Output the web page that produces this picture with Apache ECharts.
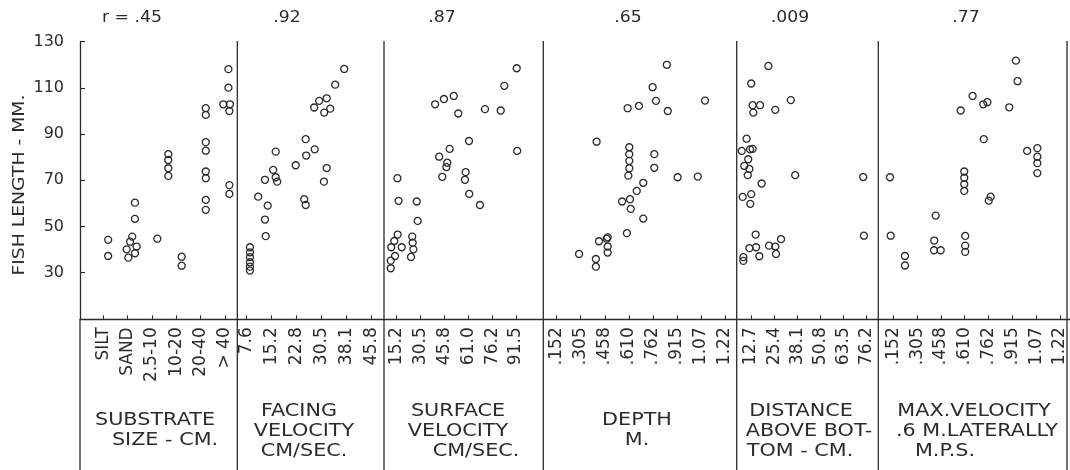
<!DOCTYPE html>
<html>
<head>
<meta charset="utf-8">
<script src="https://cdn.jsdelivr.net/npm/echarts@6/dist/echarts.min.js"></script>
<style>
  html, body { margin: 0; padding: 0; background: #fff; }
  #chart { width: 1070px; height: 470px; }
</style>
</head>
<body>
<div id="chart"></div>
<script>
// r value printed above each panel
const rLabels = ['r = .45', '.92', '.87', '.65', '.009', '.77'];

// class labels under each panel
const substrateTicks = ['SILT', 'SAND', '2.5-10', '10-20', '20-40', '> 40'];
const facingTicks = ['7.6', '15.2', '22.8', '30.5', '38.1', '45.8'];
const surfaceTicks = ['15.2', '30.5', '45.8', '61.0', '76.2', '91.5'];
const depthTicks = ['.152', '.305', '.458', '.610', '.762', '.915', '1.07', '1.22'];
const distanceTicks = ['12.7', '25.4', '38.1', '50.8', '63.5', '76.2'];
const maxVelTicks = ['.152', '.305', '.458', '.610', '.762', '.915', '1.07', '1.22'];

const yTicks = [30, 50, 70, 90, 110, 130];

// panel captions
const substrateTitle = ['SUBSTRATE', 'SIZE - CM.'];
const facingTitle = ['FACING', 'VELOCITY', 'CM/SEC.'];
const surfaceTitle = ['SURFACE', 'VELOCITY', 'CM/SEC.'];
const depthTitle = ['DEPTH', 'M.'];
const distanceTitle = ['DISTANCE', 'ABOVE BOT-', 'TOM - CM.'];
const maxVelTitle = ['MAX.VELOCITY', '.6 M.LATERALLY', 'M.P.S.'];

// fish: x = position along the class ticks (0 = first tick), y = fish length mm
const substrateX = [0.2, 0.2, 1.3, 1.3, 1.19, 1.1, 1.37, 0.96, 1.3, 1.03, 2.22, 2.67, 2.67, 2.67, 2.67, 3.22, 3.22,
  4.21, 4.21, 4.21, 4.21, 4.21, 4.21, 4.21, 4.21, 5.14, 5.14, 4.93, 5.2, 5.18, 5.18, 5.18];
const substrateY = [44.2, 37.2, 60.3, 53.3, 45.6, 43.4, 41.3, 40.1, 38.4, 36.5, 44.7, 81.3, 78.8, 75.2, 71.9, 36.9, 33.0,
  101.2, 98.3, 86.5, 82.8, 73.8, 70.9, 61.5, 57.2, 118.1, 110.1, 102.9, 102.9, 100.0, 67.9, 64.1];

const facingX = [0.13, 0.13, 0.13, 0.13, 0.13, 0.13, 0.46, 0.73, 0.84, 0.73, 0.76, 1.06, 1.16, 1.16, 1.22, 1.96, 2.36, 2.38,
  2.72, 2.3, 2.36, 3.2, 3.09, 2.7, 2.9, 3.2, 3.1, 3.34, 3.54, 3.9];
const facingY = [41.0, 38.8, 36.7, 34.5, 32.6, 30.9, 62.9, 70.2, 59.0, 53.0, 45.8, 74.5, 82.4, 71.3, 69.4, 76.5, 87.8, 80.7,
  83.4, 61.8, 59.3, 75.3, 69.4, 101.5, 104.4, 105.5, 99.3, 101.0, 111.4, 118.2];

const surfaceX = [5.03, 4.51, 1.61, 1.98, 2.39, 2.58, 3.7, 4.36, 3.03, 2.22, 1.78, 2.12, 2.08, 1.91, 2.89, 2.86, 3.04, 3.49,
  5.05, 0.03, 0.08, 0.84, 0.88, 0.04, -0.1, -0.23, 0.21, -0.07, -0.25, -0.25, 0.65, 0.67, 0.7, 0.6];
const surfaceY = [118.5, 110.9, 102.9, 105.2, 106.5, 98.9, 100.8, 100.2, 87.0, 83.6, 80.2, 77.6, 75.7, 71.5, 73.5, 70.2, 64.1, 59.3,
  82.7, 70.9, 61.1, 60.8, 52.4, 46.5, 43.7, 41.0, 41.0, 37.2, 35.2, 31.9, 45.6, 43.0, 40.1, 36.8];

const depthX = [4.58, 3.99, 4.13, 2.95, 3.42, 4.62, 6.17, 1.66, 3.02, 3.02, 3.02, 3.02, 2.98, 4.06, 4.06, 5.03, 5.87, 3.6,
  3.33, 2.72, 3.05, 3.08, 3.6, 2.92, 2.12, 2.08, 1.76, 2.12, 2.12, 0.93, 1.63, 1.63];
const depthY = [120.0, 110.3, 104.4, 101.2, 102.2, 100.0, 104.5, 86.7, 84.3, 81.3, 78.4, 75.2, 72.0, 81.3, 75.4, 71.3, 71.6, 68.9,
  65.4, 60.8, 61.8, 57.6, 53.4, 47.1, 45.3, 44.7, 43.6, 41.3, 38.7, 38.1, 35.9, 32.6];

const distanceX = [0.75, 0.01, 0.07, 0.39, 0.1, 1.05, 1.72, -0.19, -0.4, -0.04, 0.07, -0.12, -0.29, -0.07, -0.14, 1.91, 0.46,
  -0.36, 0.01, -0.03, 4.85, 4.88, 0.2, -0.07, 0.22, -0.33, -0.33, 0.36, 0.78, 1.05, 1.3, 1.08];
const distanceY = [119.5, 111.9, 102.5, 102.5, 99.3, 100.5, 104.7, 88.0, 82.7, 83.4, 83.6, 79.1, 76.2, 74.9, 72.2, 72.2, 68.6,
  62.8, 64.0, 59.8, 71.4, 46.0, 46.5, 40.6, 41.0, 36.7, 35.1, 37.1, 41.7, 41.3, 44.5, 38.1];

const maxVelX = [5.15, 5.22, 3.33, 3.78, 3.95, 2.83, 4.87, 3.8, 5.62, 6.05, 6.05, 6.05, 6.05, -0.14, 2.98, 2.98, 2.98, 2.98,
  4.09, 4.01, 1.78, -0.11, 1.72, 1.71, 1.99, 3.02, 3.02, 3.02, 0.49, 0.49];
const maxVelY = [121.8, 112.9, 106.5, 102.9, 103.8, 100.2, 101.6, 87.8, 82.7, 83.9, 80.2, 77.4, 73.1, 71.3, 73.8, 71.1, 68.3, 65.4,
  62.9, 61.2, 54.7, 46.0, 43.9, 39.7, 39.7, 45.9, 41.7, 39.0, 37.2, 33.1];

const ink = '#2b2b2b';
const fontName = '"DejaVu Sans"';
const W = 1070, H = 470;
const plotTop = 41.7, plotBottom = 319.3;

// panel edges in px, first tick px and tick spacing px
const panels = [
  { left: 80, right: 237.3, first: 103.3, step: 24.34, ticks: substrateTicks, xs: substrateX, ys: substrateY, title: substrateTitle, r: 132, tx: [155, 165] },
  { left: 237.3, right: 384, first: 246.7, step: 25, ticks: facingTicks, xs: facingX, ys: facingY, title: facingTitle, r: 287, tx: [299, 304, 304] },
  { left: 384, right: 543.3, first: 396.7, step: 23.86, ticks: surfaceTicks, xs: surfaceX, ys: surfaceY, title: surfaceTitle, r: 442, tx: [458, 458, 476] },
  { left: 543.3, right: 736.7, first: 556.7, step: 24.04, ticks: depthTicks, xs: depthX, ys: depthY, title: depthTitle, r: 628, tx: [637, 637] },
  { left: 736.7, right: 878.3, first: 751, step: 23.14, ticks: distanceTicks, xs: distanceX, ys: distanceY, title: distanceTitle, r: 790, tx: [801, 809, 800] },
  { left: 878.3, right: 1070, first: 893.3, step: 23.81, ticks: maxVelTicks, xs: maxVelX, ys: maxVelY, title: maxVelTitle, r: 966, tx: [974, 977, 945] }
];

const grid = [], xAxis = [], yAxis = [], series = [], graphic = [];

panels.forEach((p, i) => {
  const idx = p.ticks.map((t, k) => k);
  grid.push({
    left: p.left, right: W - p.right, top: plotTop, bottom: H - plotBottom,
    containLabel: false, outerBoundsMode: 'none'
  });
  xAxis.push({
    gridIndex: i,
    type: 'value',
    min: (p.left - p.first) / p.step,
    max: (p.right - p.first) / p.step,
    axisLine: { show: true, onZero: false, lineStyle: { color: ink, width: 1.3 } },
    axisTick: { show: true, inside: true, length: 4, customValues: idx, lineStyle: { color: ink, width: 1.1 } },
    axisLabel: {
      show: true, customValues: idx, rotate: 90, margin: 8,
      formatter: v => p.ticks[Math.round(v)],
      color: ink, fontFamily: 'DejaVu Sans', fontSize: 17
    },
    splitLine: { show: false }
  });
  yAxis.push({
    gridIndex: i,
    type: 'value',
    min: 9.8,
    max: 130,
    show: i === 0,
    axisLine: { show: true, onZero: false, lineStyle: { color: ink, width: 1.3 } },
    axisTick: { show: true, inside: true, length: 5, customValues: yTicks, lineStyle: { color: ink, width: 1.1 } },
    axisLabel: { show: true, customValues: yTicks, margin: 16, color: ink, fontFamily: 'DejaVu Sans', fontSize: 16 },
    splitLine: { show: false }
  });
  series.push({
    type: 'scatter',
    xAxisIndex: i,
    yAxisIndex: i,
    data: p.xs.map((x, k) => [x, p.ys[k]]),
    symbol: 'circle',
    symbolSize: 7,
    itemStyle: { color: 'rgba(0,0,0,0)', borderColor: ink, borderWidth: 1.3, opacity: 1 },
    silent: true
  });

  // r value on top
  graphic.push({
    type: 'text', x: p.r, y: 18, scaleX: 1.15,
    style: { text: rLabels[i], fill: ink, font: '15px ' + fontName, textAlign: 'center', textVerticalAlign: 'middle' }
  });
  // caption lines under the class labels
  const y0 = p.title.length === 2 ? 421 : 412;
  p.title.forEach((line, k) => {
    graphic.push({
      type: 'text', x: p.tx[k], y: y0 + k * 20, scaleX: 1.22,
      style: { text: line, fill: ink, font: '17px ' + fontName, textAlign: 'center', textVerticalAlign: 'middle' }
    });
  });
  // panel divider
  const xr = i === panels.length - 1 ? 1067 : p.right;
  graphic.push({
    type: 'line', shape: { x1: xr, y1: 41, x2: xr, y2: H },
    style: { stroke: ink, lineWidth: 1.3 }
  });
});

// left rule continues down through the label block
graphic.push({
  type: 'line', shape: { x1: 80, y1: plotBottom, x2: 80, y2: H },
  style: { stroke: ink, lineWidth: 1.3 }
});
// y axis name
graphic.push({
  type: 'text', x: 20, y: 185, rotation: Math.PI / 2, scaleX: 1.25,
  style: { text: 'FISH LENGTH - MM.', fill: ink, font: '15px ' + fontName, textAlign: 'center', textVerticalAlign: 'middle' }
});

const chart = echarts.init(document.getElementById('chart'));
chart.setOption({
  backgroundColor: '#ffffff',
  animation: false,
  grid: grid,
  xAxis: xAxis,
  yAxis: yAxis,
  series: series,
  graphic: graphic
});
</script>
</body>
</html>
